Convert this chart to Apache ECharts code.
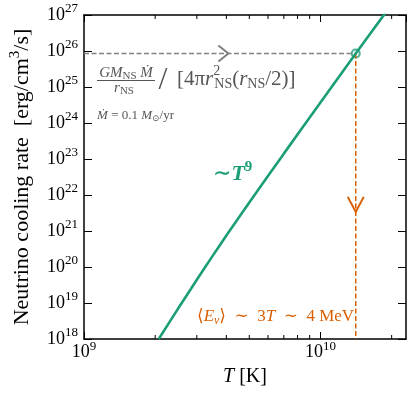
<!DOCTYPE html>
<html><head><meta charset="utf-8">
<script src="https://cdn.jsdelivr.net/npm/echarts@6/dist/echarts.min.js"></script>
<style>html,body{margin:0;padding:0;background:#fff}#c{width:416px;height:398px}</style>
</head><body><div id="c"></div>
<script>
// ---- data ----
const xMin = 1e9, xMax = 2.3e10;
const yMin = 1e18, yMax = 1e27;
const xMinorTicks = [2e9, 3e9, 4e9, 5e9, 6e9, 7e9, 8e9, 9e9, 2e10];
const temperature = [2.07e9, 2.5e9, 3.0e9, 3.5e9, 4.0e9, 5.0e9, 7.0e9, 1.0e10, 1.41e10, 1.84e10, 2.0e10];
const coolingRate = [1e18, 7.0e18, 4.4e19, 2.04e20, 7.5e20, 6.2e21, 1.41e23, 3.69e24, 8.5e25, 9.3e26, 2e27];
const markerT = 1.41e10, markerRate = 8.5e25;
const grayArrowT = 4.08e9;
const orangeArrowRate = 3.4e21;

const L = Math.log10;
const FF = "'Liberation Serif', 'DejaVu Serif', serif";
const GREEN = '#1b9e77', ORANGE = '#d95f02', GRAY = '#808080', TGRAY = '#555555';

const tickRich = {
  b: { fontSize: 18, fontFamily: FF, color: '#000' },
  s: { fontSize: 13, fontFamily: FF, color: '#000', padding: [0, 0, 12, 0] }
};
const isInt = v => Math.abs(v - Math.round(v)) < 1e-6;
const powLabel = v => isInt(v) ? '{b|10}{s|' + Math.round(v) + '}' : '';

const chart = echarts.init(document.getElementById('c'), null, { renderer: 'canvas' });

const axisLine = { show: true, onZero: false, lineStyle: { color: '#000', width: 1.5 } };

const option = {
  animation: false,
  backgroundColor: '#fff',
  grid: { left: 81, right: 10, top: 15, bottom: 59 },
  xAxis: [
    {
      type: 'value', position: 'bottom', min: L(xMin), max: L(xMax), interval: 1,
      axisLine, splitLine: { show: false },
      axisTick: { inside: true, length: 7, lineStyle: { color: '#000', width: 1 } },
      axisLabel: { formatter: powLabel, rich: tickRich, margin: 1, showMaxLabel: false },
      name: '{i|T} [K]', nameLocation: 'middle', nameGap: 28,
      nameTextStyle: { fontFamily: FF, fontSize: 20, color: '#000',
        rich: { i: { fontFamily: FF, fontSize: 20, fontStyle: 'italic', color: '#000' } } }
    },
    {
      type: 'value', position: 'top', min: L(xMin), max: L(xMax), interval: 1,
      axisLine, splitLine: { show: false },
      axisTick: { inside: true, length: 7, lineStyle: { color: '#000', width: 1 } },
      axisLabel: { show: false }
    }
  ],
  yAxis: [
    {
      type: 'value', position: 'left', min: L(yMin), max: L(yMax), interval: 1,
      axisLine, splitLine: { show: false },
      axisTick: { inside: true, length: 8, lineStyle: { color: '#000', width: 1 } },
      axisLabel: { formatter: powLabel, rich: tickRich, margin: 6 },
      name: '{n|Neutrino cooling rate  [erg/cm}{s|3}{n|/s]}', nameLocation: 'middle', nameGap: 48, nameRotate: 90,
      nameTextStyle: { fontFamily: FF, fontSize: 22, color: '#000',
        rich: { n: { fontFamily: FF, fontSize: 22, color: '#000' },
                s: { fontFamily: FF, fontSize: 15, color: '#000', padding: [0, 0, 13, 0] } } }
    },
    {
      type: 'value', position: 'right', min: L(yMin), max: L(yMax), interval: 1,
      axisLine, splitLine: { show: false },
      axisTick: { inside: true, length: 8, lineStyle: { color: '#000', width: 1 } },
      axisLabel: { show: false }
    }
  ],
  series: [
    {
      type: 'custom', xAxisIndex: 0, yAxisIndex: 0, silent: true, clip: false,
      data: xMinorTicks.map(v => [L(v), L(yMin)]),
      renderItem: (params, api) => {
        const x = api.value(0);
        const b = api.coord([x, L(yMin)]);
        const t = api.coord([x, L(yMax)]);
        return { type: 'group', children: [
          { type: 'line', shape: { x1: b[0], y1: b[1], x2: b[0], y2: b[1] - 4 }, style: { stroke: '#000', lineWidth: 1 } },
          { type: 'line', shape: { x1: t[0], y1: t[1], x2: t[0], y2: t[1] + 4 }, style: { stroke: '#000', lineWidth: 1 } }
        ] };
      }
    },
    {
      type: 'line', showSymbol: false, silent: true,
      data: [[L(xMin), L(markerRate)], [L(markerT), L(markerRate)]],
      lineStyle: { color: GRAY, width: 1.5, type: [5, 2.5] }
    },
    {
      type: 'line', showSymbol: false, silent: true,
      data: [[L(markerT), L(markerRate)], [L(markerT), L(yMin)]],
      lineStyle: { color: ORANGE, width: 1.5, type: [5, 2.5] }
    },
    {
      type: 'line', showSymbol: false, silent: true, smooth: 0.2, clip: true,
      data: temperature.map((t, i) => [L(t), L(coolingRate[i])]),
      lineStyle: { color: GREEN, width: 2.6 }
    },
    {
      type: 'scatter', silent: true, symbol: 'emptyCircle', symbolSize: 8,
      data: [[L(markerT), L(markerRate)]],
      itemStyle: { color: GREEN, borderColor: GREEN, borderWidth: 1 }
    },
    {
      type: 'custom', silent: true, clip: false,
      data: [[L(grayArrowT), L(markerRate)]],
      renderItem: (p, api) => {
        const c = api.coord([api.value(0), api.value(1)]);
        return { type: 'polyline', shape: { points: [[c[0] - 10, c[1] - 8], [c[0], c[1]], [c[0] - 10, c[1] + 8]] },
          style: { stroke: GRAY, lineWidth: 2, fill: null } };
      }
    },
    {
      type: 'custom', silent: true, clip: false,
      data: [[L(markerT), L(orangeArrowRate)]],
      renderItem: (p, api) => {
        const c = api.coord([api.value(0), api.value(1)]);
        return { type: 'polyline', shape: { points: [[c[0] - 8, c[1] - 15], [c[0], c[1]], [c[0] + 8, c[1] - 15]] },
          style: { stroke: ORANGE, lineWidth: 2, fill: null } };
      }
    }
  ],
  graphic: [
    { type: 'text', x: 126, y: 73, style: { text: '{i|GM}{sb|NS}{i| Ṁ}', textAlign: 'center', textVerticalAlign: 'middle',
      rich: { i: { fontFamily: FF, fontSize: 15, fontStyle: 'italic', fill: TGRAY },
              sb: { fontFamily: FF, fontSize: 11, fill: TGRAY, padding: [7, 0, 0, 0] } } } },
    { type: 'line', shape: { x1: 97, y1: 80.5, x2: 155, y2: 80.5 }, style: { stroke: TGRAY, lineWidth: 1 } },
    { type: 'text', x: 124, y: 88, style: { text: '{i|r}{sb|NS}', textAlign: 'center', textVerticalAlign: 'middle',
      rich: { i: { fontFamily: FF, fontSize: 15, fontStyle: 'italic', fill: TGRAY },
              sb: { fontFamily: FF, fontSize: 11, fill: TGRAY, padding: [7, 0, 0, 0] } } } },
    { type: 'text', x: 163, y: 81, style: { text: '/', fontFamily: FF, fontSize: 32, fill: TGRAY, textAlign: 'center', textVerticalAlign: 'middle' } },
    { type: 'text', x: 177, y: 79, style: { text: '{m|[4π}{i|r}{sp|2}{sb|NS}{m|(}{i|r}{sb|NS}{m|/2)]}', textAlign: 'left', textVerticalAlign: 'middle',
      rich: { m: { fontFamily: FF, fontSize: 21, fill: TGRAY },
              i: { fontFamily: FF, fontSize: 21, fontStyle: 'italic', fill: TGRAY },
              sp: { fontFamily: FF, fontSize: 14, fill: TGRAY, width: 1, padding: [0, 0, 15, 0] },
              sb: { fontFamily: FF, fontSize: 14, fill: TGRAY, padding: [10, 0, 0, 0] } } } },
    { type: 'text', x: 97, y: 116, style: { text: '{i|Ṁ} {m|= 0.1 }{i|M}{sb|⊙}{m|/yr}', textAlign: 'left', textVerticalAlign: 'middle',
      rich: { m: { fontFamily: FF, fontSize: 13, fill: TGRAY },
              i: { fontFamily: FF, fontSize: 13, fontStyle: 'italic', fill: TGRAY },
              sb: { fontFamily: FF, fontSize: 9, fill: TGRAY, padding: [5, 0, 0, 0] } } } },
    { type: 'text', x: 213, y: 174, style: { text: '{m|∼}{i|T}{sp|9}', textAlign: 'left', textVerticalAlign: 'middle',
      rich: { m: { fontFamily: FF, fontSize: 22, fontWeight: 'bold', fill: GREEN },
              i: { fontFamily: FF, fontSize: 22, fontWeight: 'bold', fontStyle: 'italic', fill: GREEN },
              sp: { fontFamily: FF, fontSize: 15, fontWeight: 'bold', fill: GREEN, padding: [0, 0, 13, 0] } } } },
    { type: 'text', x: 197, y: 317, style: { text: '{m|⟨}{i|E}{sb|ν}{m|⟩  ∼  3}{i|T}{m|  ∼  4 MeV}', textAlign: 'left', textVerticalAlign: 'middle',
      rich: { m: { fontFamily: FF, fontSize: 17, fill: ORANGE },
              i: { fontFamily: FF, fontSize: 17, fontStyle: 'italic', fill: ORANGE },
              sb: { fontFamily: FF, fontSize: 12, fontStyle: 'italic', fill: ORANGE, padding: [7, 0, 0, 0] } } } }
  ]
};
chart.setOption(option);
</script></body></html>
